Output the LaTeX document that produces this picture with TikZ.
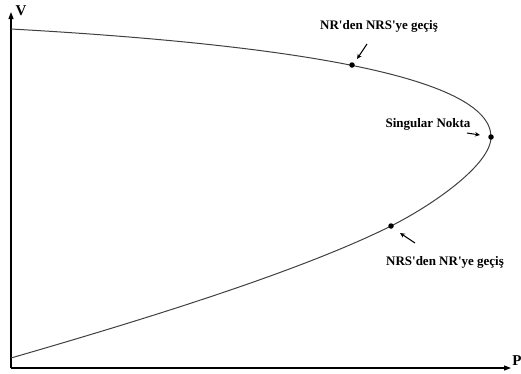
\documentclass[tikz,border=0pt]{standalone}
\usepackage{fontspec}
\setmainfont{Liberation Serif}
\usetikzlibrary{arrows.meta}
\begin{document}
\begin{tikzpicture}[x=1pt,y=-1pt,
  axis/.style={line width=1.1pt,black,-{Triangle[length=7pt,width=5pt]}},
  curve/.style={line width=1pt,black!75},
  dotp/.style={circle,fill=black,inner sep=0pt,minimum size=5.5pt},
  lbl/.style={font=\bfseries\fontsize{13}{15}\selectfont,inner sep=0pt},
  pointer/.style={line width=1pt,-{Stealth[length=5pt,width=4.5pt]}},
  tickmark/.style={black!35,line width=0.6pt}]
\useasboundingbox (0,0) rectangle (521,373);
\coordinate (O) at (11,368);
\coordinate (Vtop) at (11,12);
\coordinate (Pend) at (511,368);
\foreach \yy in {90,137,183,230,277,323} \draw[tickmark] (9.5,\yy) -- (11,\yy);
\draw[axis] (O) -- (Vtop);
\draw[axis] (O) -- (Pend);
\node[font=\bfseries\fontsize{15}{17}\selectfont,inner sep=0pt] (V) at (21,11) {V};
\node[font=\bfseries\fontsize{15}{17}\selectfont,inner sep=0pt] (P) at (517,361) {P};
\coordinate (S) at (11,29);
\coordinate (N) at (491,137);
\coordinate (L) at (391,226);
\coordinate (E) at (11,358);
\draw[curve] (S) .. controls (280,44) and (491,75) .. (N)
  .. controls (491,165) and (431,206) .. (L)
  .. controls (291,276) and (111,329) .. (E);
\node[dotp] (d1) at (352,65) {};
\node[dotp] (d2) at (N) {};
\node[dotp] (d3) at (L) {};
\node[lbl] (t1) at (379,26) {NR\textquotesingle den NRS\textquotesingle ye geçiş};
\node[lbl] (t2) at (428,124) {Singular Nokta};
\node[lbl] (t3) at (445,262) {NRS\textquotesingle den NR\textquotesingle ye geçiş};
\coordinate (a1s) at (367,44);
\coordinate (a1e) at (357,59);
\coordinate (a2s) at (467,133);
\coordinate (a2e) at (480,135);
\coordinate (a3s) at (415,243);
\coordinate (a3e) at (400,233);
\draw[pointer] (a1s) -- (a1e);
\draw[pointer] (a2s) -- (a2e);
\draw[pointer] (a3s) -- (a3e);
\end{tikzpicture}
\end{document}
